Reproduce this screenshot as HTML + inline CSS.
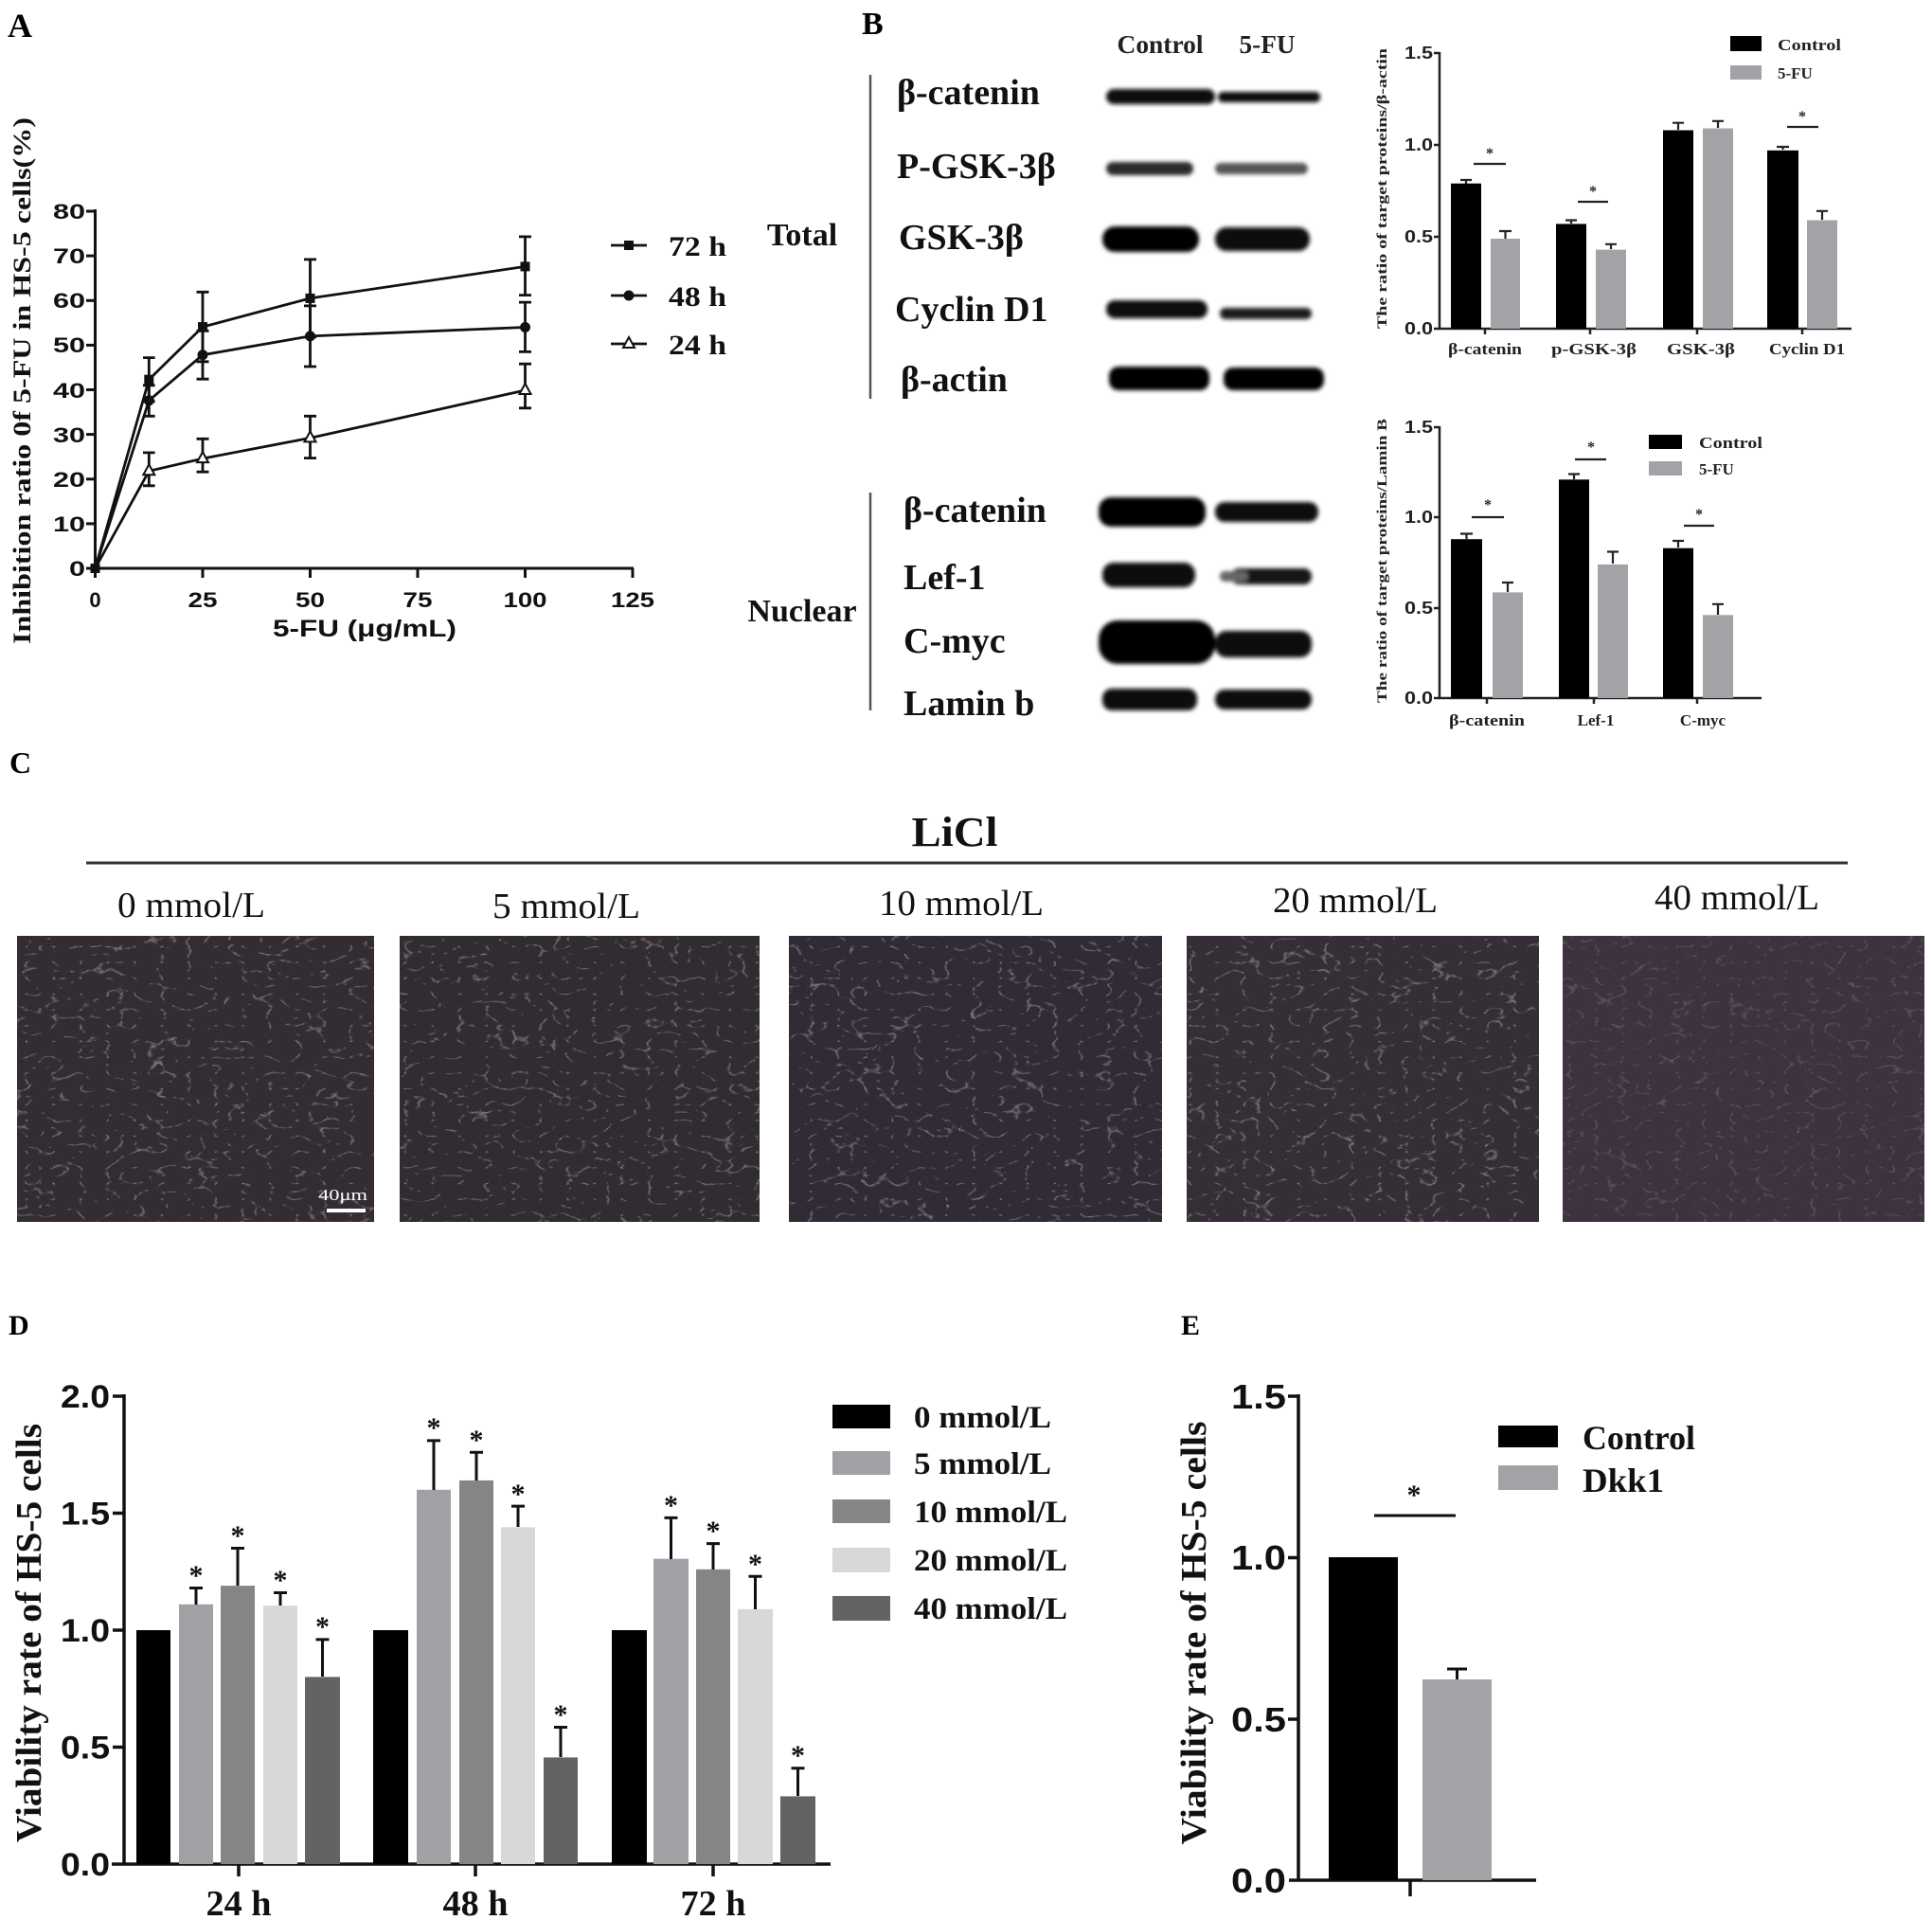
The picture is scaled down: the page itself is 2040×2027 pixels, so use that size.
<!DOCTYPE html>
<html><head><meta charset="utf-8">
<style>
html,body{margin:0;padding:0;background:#fff;}
svg{display:block;}
.sb{font-family:"Liberation Serif",serif;font-weight:bold;}
.sr{font-family:"Liberation Serif",serif;}
.ab{font-family:"Liberation Sans",sans-serif;font-weight:bold;}
</style></head>
<body>
<svg width="2040" height="2027" viewBox="0 0 2040 2027" xmlns="http://www.w3.org/2000/svg">
<defs>
  <filter id="blur" x="-10%" y="-50%" width="120%" height="200%"><feGaussianBlur stdDeviation="2.2"/></filter>
  <filter id="cells" x="0" y="0" width="100%" height="100%">
    <feTurbulence type="turbulence" baseFrequency="0.035 0.06" numOctaves="2" seed="4"/>
    <feColorMatrix type="matrix" values="0 0 0 0 0.62  0 0 0 0 0.56  0 0 0 0 0.58  -5 0 0 0 0.45"/>
  </filter>
</defs>
<rect width="2040" height="2027" fill="#fff"/>

<!-- ================= PANEL A ================= -->
<text class="sb" x="8" y="39" font-size="36">A</text>
<g stroke="#111" stroke-width="3" fill="none">
  <line x1="100.5" y1="221" x2="100.5" y2="601.5"/>
  <line x1="99" y1="600" x2="669" y2="600"/>
  <line x1="91" y1="600" x2="100" y2="600"/><line x1="91" y1="552.9" x2="100" y2="552.9"/>
  <line x1="91" y1="505.8" x2="100" y2="505.8"/><line x1="91" y1="458.6" x2="100" y2="458.6"/>
  <line x1="91" y1="411.5" x2="100" y2="411.5"/><line x1="91" y1="364.4" x2="100" y2="364.4"/>
  <line x1="91" y1="317.3" x2="100" y2="317.3"/><line x1="91" y1="270.1" x2="100" y2="270.1"/>
  <line x1="91" y1="223" x2="100" y2="223"/>
  <line x1="100.5" y1="600" x2="100.5" y2="610"/><line x1="214" y1="600" x2="214" y2="610"/>
  <line x1="327.5" y1="600" x2="327.5" y2="610"/><line x1="441" y1="600" x2="441" y2="610"/>
  <line x1="554.5" y1="600" x2="554.5" y2="610"/><line x1="668" y1="600" x2="668" y2="610"/>
</g>
<g class="ab" font-size="22" text-anchor="end" fill="#111">
  <text x="90" y="608" textLength="17" lengthAdjust="spacingAndGlyphs">0</text>
  <text x="90" y="561" textLength="34" lengthAdjust="spacingAndGlyphs">10</text>
  <text x="90" y="514" textLength="34" lengthAdjust="spacingAndGlyphs">20</text>
  <text x="90" y="467" textLength="34" lengthAdjust="spacingAndGlyphs">30</text>
  <text x="90" y="420" textLength="34" lengthAdjust="spacingAndGlyphs">40</text>
  <text x="90" y="372" textLength="34" lengthAdjust="spacingAndGlyphs">50</text>
  <text x="90" y="325" textLength="34" lengthAdjust="spacingAndGlyphs">60</text>
  <text x="90" y="278" textLength="34" lengthAdjust="spacingAndGlyphs">70</text>
  <text x="90" y="231" textLength="34" lengthAdjust="spacingAndGlyphs">80</text>
</g>
<g class="ab" font-size="22" text-anchor="middle" fill="#111">
  <text x="100.5" y="641">0</text>
  <text x="214" y="641" textLength="31" lengthAdjust="spacingAndGlyphs">25</text>
  <text x="327.5" y="641" textLength="31" lengthAdjust="spacingAndGlyphs">50</text>
  <text x="441" y="641" textLength="31" lengthAdjust="spacingAndGlyphs">75</text>
  <text x="554.5" y="641" textLength="46" lengthAdjust="spacingAndGlyphs">100</text>
  <text x="668" y="641" textLength="46" lengthAdjust="spacingAndGlyphs">125</text>
</g>
<text class="ab" x="385" y="672" font-size="25" text-anchor="middle" textLength="194" lengthAdjust="spacingAndGlyphs" fill="#111">5-FU (μg/mL)</text>
<text class="sb" transform="translate(32,402) rotate(-90)" font-size="26" text-anchor="middle" textLength="556" lengthAdjust="spacingAndGlyphs" fill="#111">Inhibition ratio 0f 5-FU in HS-5 cells(%)</text>

<g stroke="#111" stroke-width="2.8" fill="none">
  <polyline points="100.5,600 157.3,400.7 214,345.1 327.5,314.9 554.5,281.4"/>
  <polyline points="100.5,600 157.3,422.8 214,374.7 327.5,354.9 554.5,345.5"/>
  <polyline points="100.5,600 157.3,497.3 214,484.1 327.5,462.4 554.5,412"/>
  <path d="M157.3,377.6V423.8M151,377.6H163.6M151,423.8H163.6"/>
  <path d="M214,308.3V381.8M207.5,308.3H220.5M207.5,381.8H220.5"/>
  <path d="M327.5,273.9V355.9M321,273.9H334M321,355.9H334"/>
  <path d="M554.5,249.9V311.6M548,249.9H561M548,311.6H561"/>
  <path d="M157.3,406.8V439.3M151,406.8H163.6M151,439.3H163.6"/>
  <path d="M214,349.3V400.2M207.5,349.3H220.5M207.5,400.2H220.5"/>
  <path d="M327.5,322.9V387M321,322.9H334M321,387H334"/>
  <path d="M554.5,319.1V371.4M548,319.1H561M548,371.4H561"/>
  <path d="M157.3,477.9V512.8M151,477.9H163.6M151,512.8H163.6"/>
  <path d="M214,463.3V498.2M207.5,463.3H220.5M207.5,498.2H220.5"/>
  <path d="M327.5,439.3V483.6M321,439.3H334M321,483.6H334"/>
  <path d="M554.5,384.2V430.8M548,384.2H561M548,430.8H561"/>
</g>
<g fill="#111">
  <rect x="95.5" y="595" width="10" height="10"/>
  <rect x="152.3" y="395.7" width="10" height="10"/>
  <rect x="209" y="340.1" width="10" height="10"/>
  <rect x="322.5" y="309.9" width="10" height="10"/>
  <rect x="549.5" y="276.4" width="10" height="10"/>
  <circle cx="157.3" cy="422.8" r="5.5"/><circle cx="214" cy="374.7" r="5.5"/>
  <circle cx="327.5" cy="354.9" r="5.5"/><circle cx="554.5" cy="345.5" r="5.5"/>
</g>
<g fill="#fff" stroke="#111" stroke-width="2">
  <polygon points="157.3,490.3 151.3,501.3 163.3,501.3"/>
  <polygon points="214,477.1 208,488.1 220,488.1"/>
  <polygon points="327.5,455.4 321.5,466.4 333.5,466.4"/>
  <polygon points="554.5,405 548.5,416 560.5,416"/>
</g>
<g stroke="#111" stroke-width="2.8">
  <line x1="645" y1="259" x2="683" y2="259"/>
  <line x1="645" y1="312" x2="683" y2="312"/>
  <line x1="645" y1="363" x2="683" y2="363"/>
</g>
<rect x="659" y="254" width="10" height="10" fill="#111"/>
<circle cx="664" cy="312" r="5.5" fill="#111"/>
<polygon points="664,356 658,367 670,367" fill="#fff" stroke="#111" stroke-width="2"/>
<g class="sb" font-size="30" fill="#111">
  <text x="706" y="270" textLength="61" lengthAdjust="spacingAndGlyphs">72 h</text>
  <text x="706" y="323" textLength="61" lengthAdjust="spacingAndGlyphs">48 h</text>
  <text x="706" y="374" textLength="61" lengthAdjust="spacingAndGlyphs">24 h</text>
</g>

<!-- ================= PANEL B blots ================= -->
<text class="sb" x="910" y="36" font-size="34">B</text>
<g class="sb" font-size="27" text-anchor="middle" fill="#222">
  <text x="1225" y="56" textLength="91" lengthAdjust="spacingAndGlyphs">Control</text>
  <text x="1338" y="56" textLength="59" lengthAdjust="spacingAndGlyphs">5-FU</text>
</g>
<g stroke="#555" stroke-width="2.5">
  <line x1="919" y1="79" x2="919" y2="421"/>
  <line x1="919" y1="520" x2="919" y2="750"/>
</g>
<g class="sb" font-size="34" text-anchor="middle" fill="#111">
  <text x="847" y="259">Total</text>
  <text x="847" y="656">Nuclear</text>
</g>
<g class="sb" font-size="38" fill="#111">
  <text x="947" y="110">β-catenin</text>
  <text x="947" y="188">P-GSK-3β</text>
  <text x="949" y="263">GSK-3β</text>
  <text x="945" y="339">Cyclin D1</text>
  <text x="951" y="413">β-actin</text>
  <text x="954" y="551">β-catenin</text>
  <text x="954" y="622">Lef-1</text>
  <text x="954" y="689">C-myc</text>
  <text x="954" y="755">Lamin b</text>
</g>
<g filter="url(#blur)">
  <rect x="1168" y="94" width="115" height="16" rx="8" fill="#0a0a0a"/>
  <rect x="1286" y="97" width="108" height="11" rx="5" fill="#111"/>
  <rect x="1168" y="171" width="92" height="14" rx="7" fill="#2a2a2a"/>
  <rect x="1283" y="172" width="98" height="12" rx="6" fill="#555"/>
  <rect x="1164" y="239" width="102" height="27" rx="13" fill="#050505"/>
  <rect x="1283" y="240" width="100" height="25" rx="12" fill="#080808"/>
  <rect x="1168" y="317" width="107" height="19" rx="9" fill="#111"/>
  <rect x="1288" y="325" width="97" height="12" rx="6" fill="#1a1a1a"/>
  <rect x="1171" y="387" width="106" height="25" rx="10" fill="#050505"/>
  <rect x="1292" y="388" width="106" height="24" rx="10" fill="#050505"/>
  <rect x="1160" y="525" width="113" height="31" rx="13" fill="#050505"/>
  <rect x="1283" y="530" width="109" height="21" rx="10" fill="#080808"/>
  <rect x="1164" y="594" width="98" height="26" rx="12" fill="#080808"/>
  <rect x="1300" y="600" width="85" height="17" rx="8" fill="#151515"/>
  <rect x="1288" y="603" width="30" height="11" rx="5" fill="#666"/>
  <rect x="1160" y="655" width="123" height="46" rx="20" fill="#030303"/>
  <rect x="1283" y="666" width="102" height="28" rx="12" fill="#080808"/>
  <rect x="1164" y="727" width="100" height="23" rx="10" fill="#080808"/>
  <rect x="1283" y="728" width="102" height="21" rx="10" fill="#0a0a0a"/>
</g>

<!-- ================= PANEL B top chart ================= -->
<g stroke="#222" stroke-width="2.5" fill="none">
  <line x1="1520" y1="55" x2="1520" y2="348"/>
  <line x1="1519" y1="347" x2="1955" y2="347"/>
  <path d="M1514,56H1520M1514,153H1520M1514,250H1520M1514,347H1520"/>
  <path d="M1568,347V353M1679,347V353M1792,347V353M1903,347V353"/>
</g>
<g class="ab" font-size="18" text-anchor="end" fill="#222">
  <text x="1513" y="62" textLength="30" lengthAdjust="spacingAndGlyphs">1.5</text>
  <text x="1513" y="159" textLength="30" lengthAdjust="spacingAndGlyphs">1.0</text>
  <text x="1513" y="256" textLength="30" lengthAdjust="spacingAndGlyphs">0.5</text>
  <text x="1513" y="353" textLength="30" lengthAdjust="spacingAndGlyphs">0.0</text>
</g>
<text class="sb" transform="translate(1464,199) rotate(-90)" font-size="15" text-anchor="middle" textLength="296" lengthAdjust="spacingAndGlyphs" fill="#222">The ratio of target proteins/β-actin</text>
<g fill="#000">
  <rect x="1532" y="193.7" width="32" height="153.3"/>
  <rect x="1643" y="236.4" width="32" height="110.6"/>
  <rect x="1756" y="137.5" width="32" height="209.5"/>
  <rect x="1866" y="158.8" width="33" height="188.2"/>
</g>
<g fill="#a3a3a7">
  <rect x="1574" y="252" width="31" height="95"/>
  <rect x="1685" y="263.6" width="32" height="83.4"/>
  <rect x="1798" y="135.5" width="32" height="211.5"/>
  <rect x="1908" y="232.5" width="32" height="114.5"/>
</g>
<g stroke="#222" stroke-width="2.2" fill="none">
  <path d="M1548,194V190M1542,190H1554"/>
  <path d="M1589.5,252V244M1583,244H1596"/>
  <path d="M1659,236V232.5M1653,232.5H1665"/>
  <path d="M1701,263V257.8M1695,257.8H1707"/>
  <path d="M1772,137V129.7M1766,129.7H1778"/>
  <path d="M1814,135V127.8M1808,127.8H1820"/>
  <path d="M1882.5,158V155M1876,155H1889"/>
  <path d="M1924,232V222.8M1918,222.8H1930"/>
  <path d="M1556,173H1590M1666,213H1698M1887,134H1920"/>
</g>
<g class="sb" font-size="16" text-anchor="middle" fill="#222">
  <text x="1573" y="167">*</text><text x="1682" y="207">*</text><text x="1903" y="128">*</text>
</g>
<g class="sb" font-size="17" text-anchor="middle" fill="#222">
  <text x="1568" y="374" textLength="78" lengthAdjust="spacingAndGlyphs">β-catenin</text>
  <text x="1683" y="374" textLength="90" lengthAdjust="spacingAndGlyphs">p-GSK-3β</text>
  <text x="1796" y="374" textLength="72" lengthAdjust="spacingAndGlyphs">GSK-3β</text>
  <text x="1908" y="374" textLength="80" lengthAdjust="spacingAndGlyphs">Cyclin D1</text>
</g>
<rect x="1827" y="38" width="33" height="16" fill="#000"/>
<rect x="1827" y="69" width="33" height="15" fill="#a3a3a7"/>
<g class="sb" font-size="17" fill="#222">
  <text x="1877" y="53" textLength="67" lengthAdjust="spacingAndGlyphs">Control</text>
  <text x="1877" y="83">5-FU</text>
</g>

<!-- ================= PANEL B bottom chart ================= -->
<g stroke="#222" stroke-width="2.5" fill="none">
  <line x1="1520" y1="450" x2="1520" y2="738"/>
  <line x1="1519" y1="737" x2="1860" y2="737"/>
  <path d="M1514,451H1520M1514,546H1520M1514,642H1520M1514,737H1520"/>
  <path d="M1570,737V743M1683,737V743M1792,737V743"/>
</g>
<g class="ab" font-size="18" text-anchor="end" fill="#222">
  <text x="1513" y="457" textLength="30" lengthAdjust="spacingAndGlyphs">1.5</text>
  <text x="1513" y="552" textLength="30" lengthAdjust="spacingAndGlyphs">1.0</text>
  <text x="1513" y="648" textLength="30" lengthAdjust="spacingAndGlyphs">0.5</text>
  <text x="1513" y="743" textLength="30" lengthAdjust="spacingAndGlyphs">0.0</text>
</g>
<text class="sb" transform="translate(1464,592) rotate(-90)" font-size="15" text-anchor="middle" textLength="300" lengthAdjust="spacingAndGlyphs" fill="#222">The ratio of target proteins/Lamin B</text>
<g fill="#000">
  <rect x="1532" y="569.2" width="33" height="167.8"/>
  <rect x="1646" y="506.3" width="32" height="230.7"/>
  <rect x="1756" y="578.7" width="32" height="158.3"/>
</g>
<g fill="#a3a3a7">
  <rect x="1576" y="625.4" width="32" height="111.6"/>
  <rect x="1687" y="595.9" width="32" height="141.1"/>
  <rect x="1798" y="649.3" width="32" height="87.7"/>
</g>
<g stroke="#222" stroke-width="2.2" fill="none">
  <path d="M1548.5,569V563.5M1542,563.5H1555"/>
  <path d="M1592,625V615M1586,615H1598"/>
  <path d="M1662,506V500.5M1656,500.5H1668"/>
  <path d="M1703,595V582.5M1697,582.5H1709"/>
  <path d="M1772,578V571M1766,571H1778"/>
  <path d="M1814,649V637.8M1808,637.8H1820"/>
  <path d="M1554,546H1588M1663,485H1696M1778,555H1810"/>
</g>
<g class="sb" font-size="16" text-anchor="middle" fill="#222">
  <text x="1571" y="538">*</text><text x="1680" y="477">*</text><text x="1794" y="548">*</text>
</g>
<g class="sb" font-size="17" text-anchor="middle" fill="#222">
  <text x="1570" y="766" textLength="80" lengthAdjust="spacingAndGlyphs">β-catenin</text>
  <text x="1685" y="766">Lef-1</text>
  <text x="1798" y="766">C-myc</text>
</g>
<rect x="1741" y="459" width="35" height="15" fill="#000"/>
<rect x="1741" y="487" width="35" height="15" fill="#a3a3a7"/>
<g class="sb" font-size="17" fill="#222">
  <text x="1794" y="473" textLength="67" lengthAdjust="spacingAndGlyphs">Control</text>
  <text x="1794" y="501">5-FU</text>
</g>

<!-- ================= PANEL C ================= -->
<text class="sb" x="10" y="816" font-size="32">C</text>
<text class="sb" x="1008" y="893" font-size="44" text-anchor="middle" textLength="91" lengthAdjust="spacingAndGlyphs" fill="#111">LiCl</text>
<line x1="91" y1="911" x2="1951" y2="911" stroke="#333" stroke-width="3"/>
<g class="sr" font-size="38" text-anchor="middle" fill="#111">
  <text x="202" y="968" textLength="156" lengthAdjust="spacingAndGlyphs">0 mmol/L</text>
  <text x="598" y="969" textLength="156" lengthAdjust="spacingAndGlyphs">5 mmol/L</text>
  <text x="1015" y="966" textLength="174" lengthAdjust="spacingAndGlyphs">10 mmol/L</text>
  <text x="1431" y="963" textLength="174" lengthAdjust="spacingAndGlyphs">20 mmol/L</text>
  <text x="1834" y="960" textLength="174" lengthAdjust="spacingAndGlyphs">40 mmol/L</text>
</g>
<rect x="18" y="988" width="377" height="302" fill="#332c33"/>
<rect x="422" y="988" width="380" height="302" fill="#312b32"/>
<rect x="833" y="988" width="394" height="302" fill="#302b34"/>
<rect x="1253" y="988" width="372" height="302" fill="#352e36"/>
<rect x="1650" y="988" width="382" height="302" fill="#3d3240"/>
<rect x="18" y="988" width="377" height="302" filter="url(#cells)"/>
<rect x="422" y="988" width="380" height="302" filter="url(#cells)"/>
<rect x="833" y="988" width="394" height="302" filter="url(#cells)"/>
<rect x="1253" y="988" width="372" height="302" filter="url(#cells)"/>
<rect x="1650" y="988" width="382" height="302" filter="url(#cells)" opacity="0.5"/>
<text class="sr" x="362" y="1267" font-size="17" text-anchor="middle" fill="#fff" textLength="52" lengthAdjust="spacingAndGlyphs">40μm</text>
<rect x="345" y="1276" width="41" height="4" fill="#fff"/>

<!-- ================= PANEL D ================= -->
<text class="sb" x="9" y="1409" font-size="30">D</text>
<g stroke="#111" stroke-width="3.5" fill="none">
  <line x1="131" y1="1472" x2="131" y2="1969"/>
  <line x1="118" y1="1968" x2="877" y2="1968"/>
  <path d="M119,1474H131M119,1597.5H131M119,1721H131M119,1844.5H131"/>
  <path d="M252,1968V1981M502,1968V1981M753,1968V1981"/>
</g>
<g class="ab" font-size="34" text-anchor="end" fill="#111">
  <text x="116" y="1486" textLength="52" lengthAdjust="spacingAndGlyphs">2.0</text>
  <text x="116" y="1609.5" textLength="52" lengthAdjust="spacingAndGlyphs">1.5</text>
  <text x="116" y="1733" textLength="52" lengthAdjust="spacingAndGlyphs">1.0</text>
  <text x="116" y="1856.5" textLength="52" lengthAdjust="spacingAndGlyphs">0.5</text>
  <text x="116" y="1980" textLength="52" lengthAdjust="spacingAndGlyphs">0.0</text>
</g>
<text class="sb" transform="translate(43,1724) rotate(-90)" font-size="38" text-anchor="middle" textLength="442" lengthAdjust="spacingAndGlyphs" fill="#111">Viability rate of HS-5 cells</text>
<g>
  <rect x="144" y="1721" width="36" height="247" fill="#000"/>
  <rect x="189" y="1693.8" width="36" height="274.2" fill="#a0a0a5"/>
  <rect x="233" y="1674.1" width="36" height="293.9" fill="#858587"/>
  <rect x="278" y="1695.1" width="36" height="272.9" fill="#d8d8d8"/>
  <rect x="322" y="1770.4" width="37" height="197.6" fill="#636363"/>

  <rect x="394" y="1721" width="37" height="247" fill="#000"/>
  <rect x="440" y="1572.8" width="36" height="395.2" fill="#a0a0a5"/>
  <rect x="485" y="1562.9" width="36" height="405.1" fill="#858587"/>
  <rect x="529" y="1612.3" width="36" height="355.7" fill="#d8d8d8"/>
  <rect x="574" y="1855.4" width="36" height="112.6" fill="#636363"/>

  <rect x="646" y="1721" width="37" height="247" fill="#000"/>
  <rect x="690" y="1645.7" width="37" height="322.3" fill="#a0a0a5"/>
  <rect x="735" y="1656.8" width="36" height="311.2" fill="#858587"/>
  <rect x="779" y="1698.8" width="37" height="269.2" fill="#d8d8d8"/>
  <rect x="824" y="1896.4" width="37" height="71.6" fill="#636363"/>
</g>
<g stroke="#111" stroke-width="3" fill="none">
  <path d="M207,1694V1676.5M200,1676.5H214"/>
  <path d="M251,1674V1634.5M244,1634.5H258"/>
  <path d="M296,1695V1681.5M289,1681.5H303"/>
  <path d="M340.5,1770V1730.9M333.5,1730.9H347.5"/>
  <path d="M458,1573V1520.9M451,1520.9H465"/>
  <path d="M503,1563V1533.3M496,1533.3H510"/>
  <path d="M547,1612V1590.1M540,1590.1H554"/>
  <path d="M592,1855V1823.5M585,1823.5H599"/>
  <path d="M708.5,1646V1602.4M701.5,1602.4H715.5"/>
  <path d="M753,1657V1629.6M746,1629.6H760"/>
  <path d="M797.5,1699V1664.2M790.5,1664.2H804.5"/>
  <path d="M842.5,1896V1866.7M835.5,1866.7H849.5"/>
</g>
<g class="sb" font-size="30" text-anchor="middle" fill="#111">
  <text x="207" y="1673">*</text>
  <text x="251" y="1631">*</text>
  <text x="296" y="1678">*</text>
  <text x="340.5" y="1727">*</text>
  <text x="458" y="1517">*</text>
  <text x="503" y="1530">*</text>
  <text x="547" y="1587">*</text>
  <text x="592" y="1820">*</text>
  <text x="708.5" y="1599">*</text>
  <text x="753" y="1626">*</text>
  <text x="797.5" y="1661">*</text>
  <text x="842.5" y="1863">*</text>
</g>
<g class="sb" font-size="38" text-anchor="middle" fill="#111">
  <text x="252" y="2022" textLength="69" lengthAdjust="spacingAndGlyphs">24 h</text>
  <text x="502" y="2022" textLength="69" lengthAdjust="spacingAndGlyphs">48 h</text>
  <text x="753" y="2022" textLength="69" lengthAdjust="spacingAndGlyphs">72 h</text>
</g>
<rect x="879" y="1483" width="61" height="25" fill="#000"/>
<rect x="879" y="1532" width="61" height="25" fill="#a0a0a5"/>
<rect x="879" y="1583" width="61" height="25" fill="#858587"/>
<rect x="879" y="1634" width="61" height="26" fill="#d8d8d8"/>
<rect x="879" y="1685" width="61" height="26" fill="#636363"/>
<g class="sb" font-size="33" fill="#111">
  <text x="965" y="1507" textLength="145" lengthAdjust="spacingAndGlyphs">0 mmol/L</text>
  <text x="965" y="1556" textLength="145" lengthAdjust="spacingAndGlyphs">5 mmol/L</text>
  <text x="965" y="1607" textLength="162" lengthAdjust="spacingAndGlyphs">10 mmol/L</text>
  <text x="965" y="1658" textLength="162" lengthAdjust="spacingAndGlyphs">20 mmol/L</text>
  <text x="965" y="1709" textLength="162" lengthAdjust="spacingAndGlyphs">40 mmol/L</text>
</g>

<!-- ================= PANEL E ================= -->
<text class="sb" x="1247" y="1409" font-size="30">E</text>
<g stroke="#111" stroke-width="3.5" fill="none">
  <line x1="1371" y1="1472" x2="1371" y2="1986"/>
  <line x1="1361" y1="1985" x2="1622" y2="1985"/>
  <path d="M1360,1474H1371M1360,1644.5H1371M1360,1815H1371"/>
  <path d="M1489,1985V2002"/>
</g>
<g class="ab" font-size="36" text-anchor="end" fill="#111">
  <text x="1358" y="1487" textLength="58" lengthAdjust="spacingAndGlyphs">1.5</text>
  <text x="1358" y="1657" textLength="58" lengthAdjust="spacingAndGlyphs">1.0</text>
  <text x="1358" y="1828" textLength="58" lengthAdjust="spacingAndGlyphs">0.5</text>
  <text x="1358" y="1998" textLength="58" lengthAdjust="spacingAndGlyphs">0.0</text>
</g>
<text class="sb" transform="translate(1273,1724) rotate(-90)" font-size="38" text-anchor="middle" textLength="447" lengthAdjust="spacingAndGlyphs" fill="#111">Viability rate of HS-5 cells</text>
<rect x="1403" y="1644" width="73" height="341" fill="#000"/>
<rect x="1502" y="1773" width="73" height="212" fill="#a3a3a7"/>
<g stroke="#111" stroke-width="3" fill="none">
  <path d="M1538.5,1773V1762M1528,1762H1549"/>
  <path d="M1451,1600H1537"/>
</g>
<text class="sb" x="1493" y="1588" font-size="30" text-anchor="middle" fill="#111">*</text>
<rect x="1582" y="1505" width="63" height="23" fill="#000"/>
<rect x="1582" y="1547" width="63" height="26" fill="#a3a3a7"/>
<g class="sb" font-size="36" fill="#111">
  <text x="1671" y="1530" textLength="119" lengthAdjust="spacingAndGlyphs">Control</text>
  <text x="1671" y="1575" textLength="86" lengthAdjust="spacingAndGlyphs">Dkk1</text>
</g>
</svg>
</body></html>
